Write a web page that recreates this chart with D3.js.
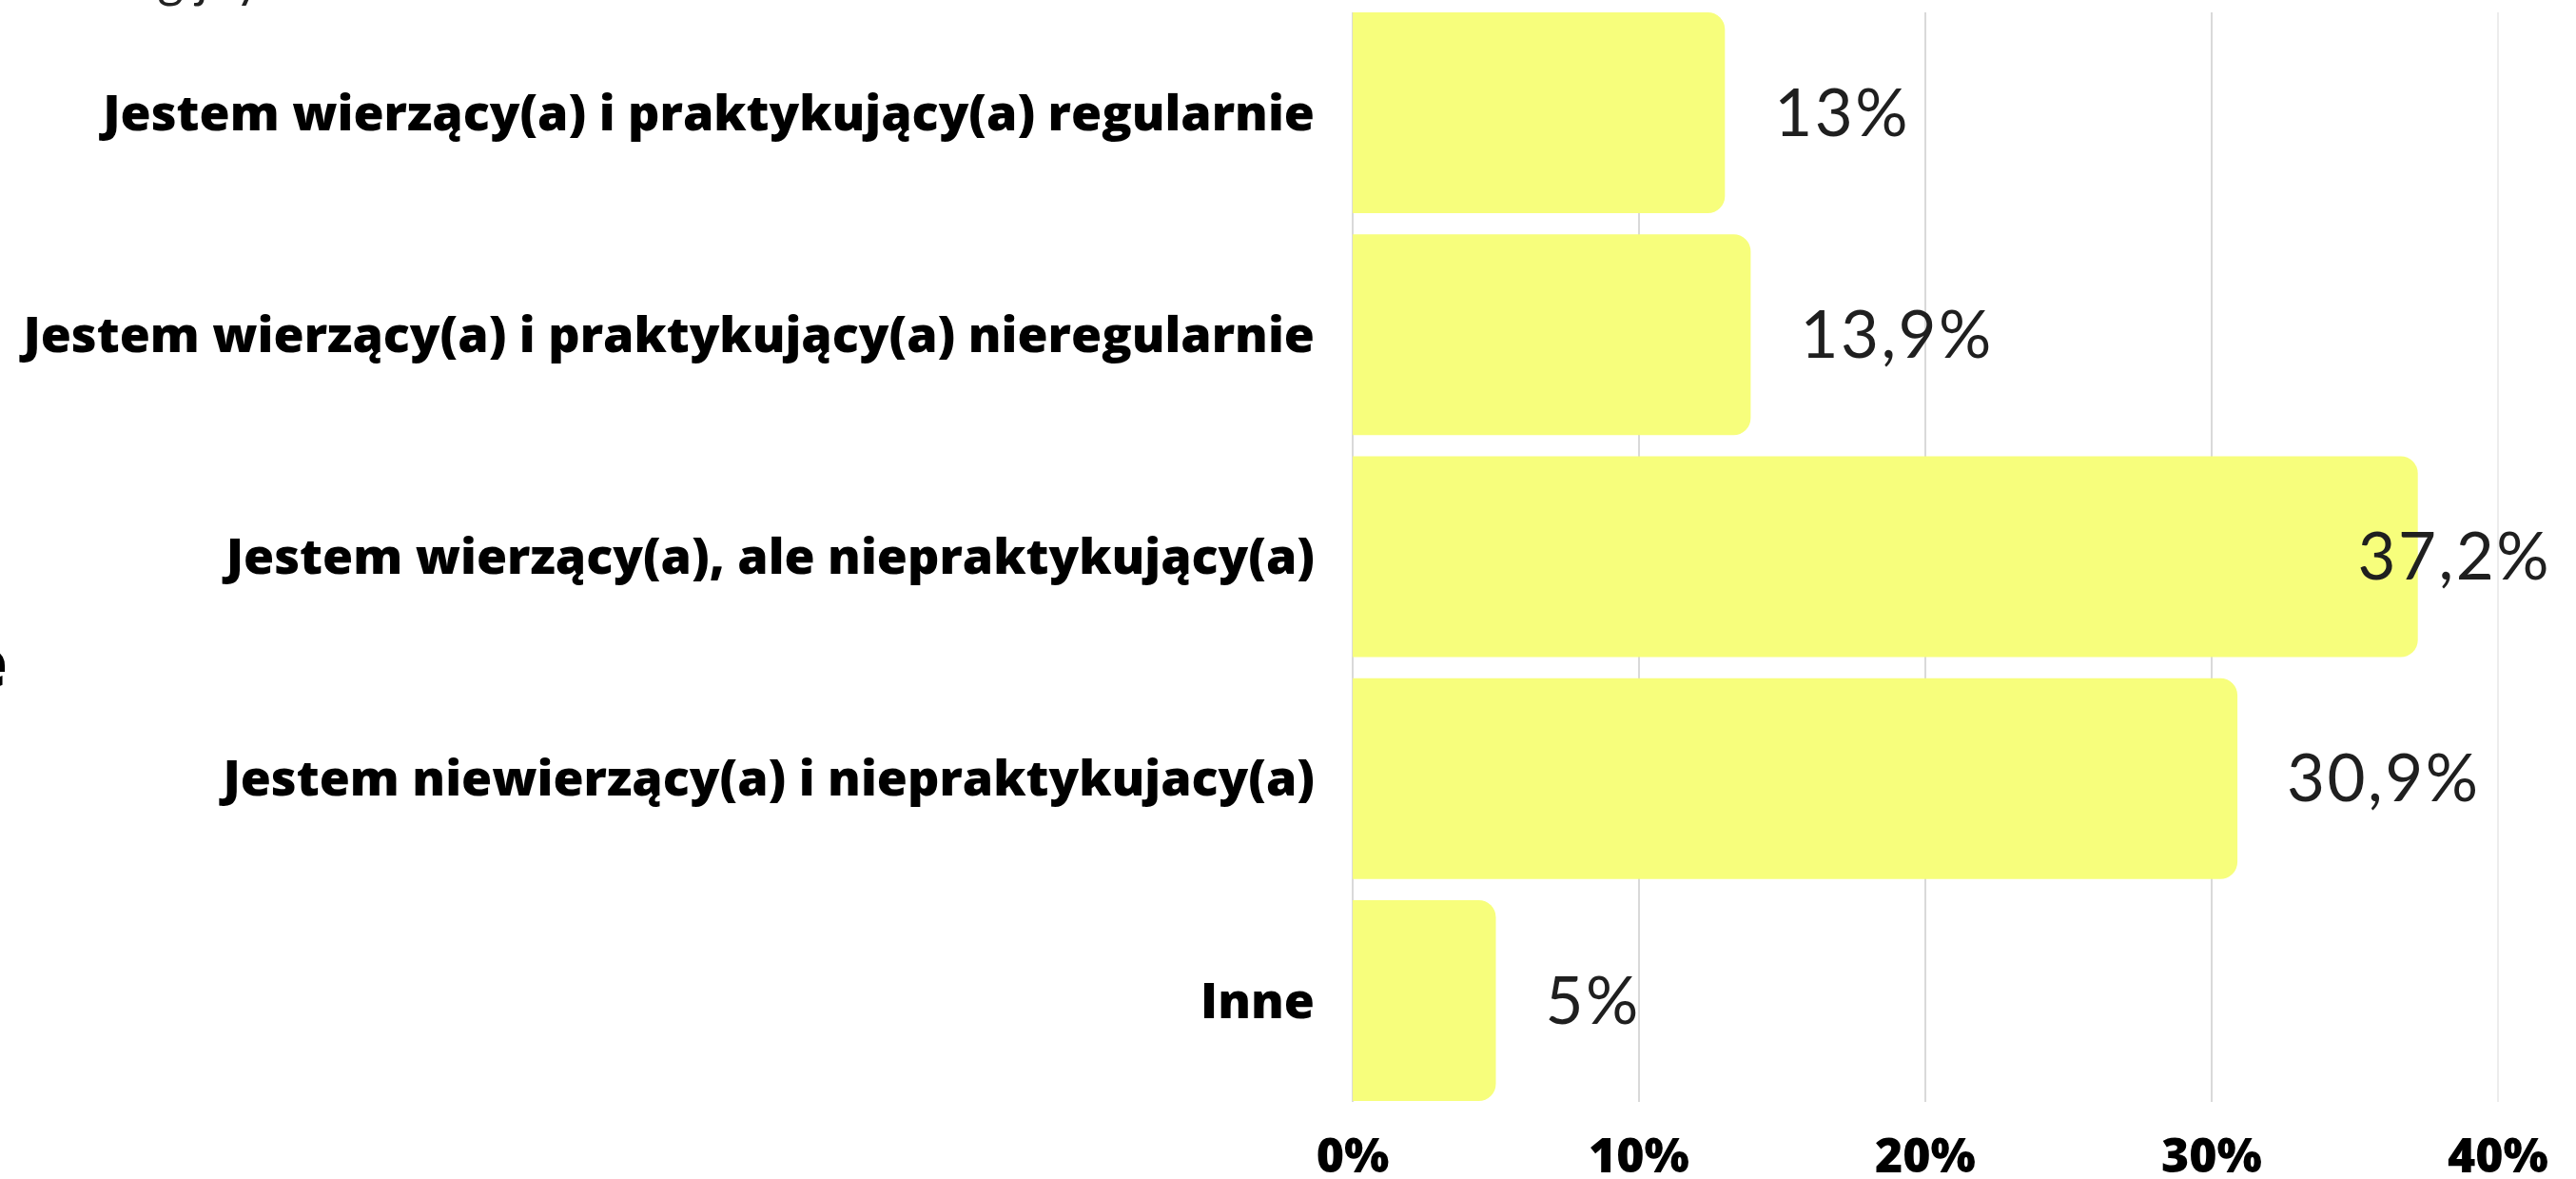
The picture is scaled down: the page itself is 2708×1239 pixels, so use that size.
<!DOCTYPE html>
<html>
<head>
<meta charset="utf-8">
<script src="https://cdn.jsdelivr.net/npm/d3@7"></script>
<style>
  html, body { margin: 0; padding: 0; background: #ffffff; overflow: hidden; }
  svg { display: block; }
</style>
</head>
<body>
<svg id="chart" width="2708" height="1239"></svg>
<script>
const categories = [
  "Jestem wierzący(a) i praktykujący(a) regularnie",
  "Jestem wierzący(a) i praktykujący(a) nieregularnie",
  "Jestem wierzący(a), ale niepraktykujący(a)",
  "Jestem niewierzący(a) i niepraktykujacy(a)",
  "Inne"
];
const values = [13, 13.9, 37.2, 30.9, 5];
const valueLabels = ["13%", "13,9%", "37,2%", "30,9%", "5%"];
const tickValues = [0, 10, 20, 30, 40];
const tickLabels = ["0%", "10%", "20%", "30%", "40%"];

const W = 2708, H = 1239;
const svg = d3.select("#chart");

const x = d3.scaleLinear().domain([0, 40]).range([1422, 2626]);
const y = d3.scaleBand().domain(categories).range([13, 1157]).paddingInner(0.095).paddingOuter(0);

// clipped title fragments (cut off by the picture edges, as in the reference)
svg.append("text")
  .attr("x", 94).attr("y", -3)
  .attr("font-family", "Lato").attr("font-size", 53)
  .attr("fill", "#222").text("religijny");
svg.append("text")
  .attr("x", 8).attr("y", 722)
  .attr("text-anchor", "end")
  .attr("font-family", "Open Sans").attr("font-weight", 800).attr("font-size", 70)
  .attr("fill", "#000").text("Praktyki religijne");

// gridlines
svg.append("g").selectAll("line").data(tickValues).join("line")
  .attr("x1", d => x(d)).attr("x2", d => x(d))
  .attr("y1", 13).attr("y2", 1158)
  .attr("stroke", (d, i) => i === tickValues.length - 1 ? "#e6e6e6" : "#cccccc")
  .attr("stroke-width", 1.5);

// bars with right rounded corners
const r = 18;
function barPath(v, cat) {
  const x0 = x(0), x1 = x(v), y0 = y(cat), h = y.bandwidth();
  const rr = Math.min(r, (x1 - x0) / 2, h / 2);
  return `M${x0},${y0}H${x1 - rr}A${rr},${rr} 0 0 1 ${x1},${y0 + rr}V${y0 + h - rr}A${rr},${rr} 0 0 1 ${x1 - rr},${y0 + h}H${x0}Z`;
}
svg.append("g").selectAll("path").data(categories).join("path")
  .attr("d", (c, i) => barPath(values[i], c))
  .attr("fill", "#f7fe7c");

// value labels
const maxRight = 2682;
const vl = svg.append("g").selectAll("text").data(categories).join("text")
  .attr("x", (c, i) => x(values[i]) + 52)
  .attr("y", c => y(c) + y.bandwidth() / 2)
  .attr("dy", "0.35em")
  .attr("font-family", "Lato").attr("font-size", 69)
  .attr("letter-spacing", 2.5)
  .attr("fill", "#1f1f1f")
  .text((c, i) => valueLabels[i]);
vl.each(function() {
  const t = d3.select(this);
  const w = this.getComputedTextLength();
  const lx = +t.attr("x");
  if (lx + w > maxRight) t.attr("x", maxRight - w);
});

// category labels
svg.append("g").selectAll("text").data(categories).join("text")
  .attr("x", 1382)
  .attr("y", c => y(c) + y.bandwidth() / 2)
  .attr("dy", "0.35em")
  .attr("text-anchor", "end")
  .attr("font-family", "Open Sans").attr("font-weight", 800).attr("font-size", 52)
  .attr("fill", "#000")
  .text(c => c);

// x axis tick labels
svg.append("g").selectAll("text").data(tickValues).join("text")
  .attr("x", d => x(d))
  .attr("y", 1214)
  .attr("dy", "0.35em")
  .attr("text-anchor", "middle")
  .attr("font-family", "Open Sans").attr("font-weight", 800).attr("font-size", 50)
  .attr("fill", "#000")
  .text((d, i) => tickLabels[i]);
</script>
</body>
</html>
